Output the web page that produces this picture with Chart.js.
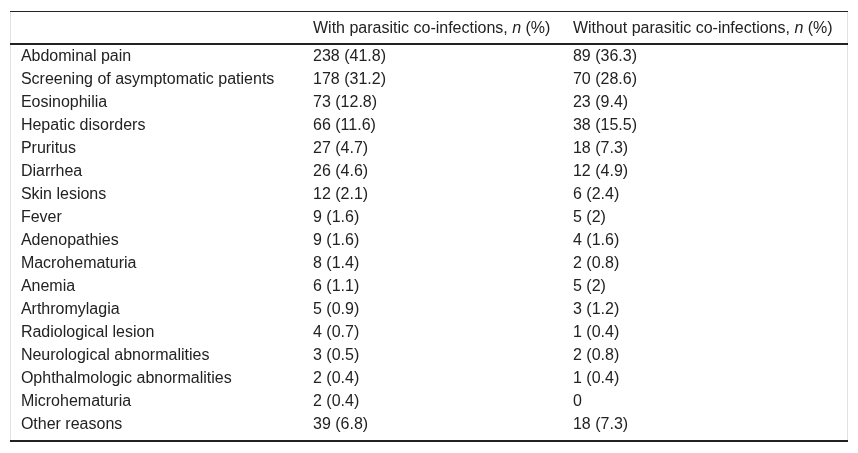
<!DOCTYPE html>
<html>
<head>
<meta charset="utf-8">
<script src="https://cdn.jsdelivr.net/npm/chart.js@4"></script>
<style>
  html, body { margin: 0; padding: 0; background: #fff; }
  #wrap { width: 858px; height: 453px; }
</style>
</head>
<body>
<div id="wrap"><canvas id="myTable" width="858" height="453"></canvas></div>
<script>
// 표 데이터
var reasons = [
  "Abdominal pain", "Screening of asymptomatic patients", "Eosinophilia",
  "Hepatic disorders", "Pruritus", "Diarrhea", "Skin lesions", "Fever",
  "Adenopathies", "Macrohematuria", "Anemia", "Arthromylagia",
  "Radiological lesion", "Neurological abnormalities",
  "Ophthalmologic abnormalities", "Microhematuria", "Other reasons"
];
var withN = [238, 178, 73, 66, 27, 26, 12, 9, 9, 8, 6, 5, 4, 3, 2, 2, 39];
var withPct = [41.8, 31.2, 12.8, 11.6, 4.7, 4.6, 2.1, 1.6, 1.6, 1.4, 1.1, 0.9, 0.7, 0.5, 0.4, 0.4, 6.8];
var withoutN = [89, 70, 23, 38, 18, 12, 6, 5, 4, 2, 5, 3, 1, 2, 1, 0, 18];
var withoutPct = [36.3, 28.6, 9.4, 15.5, 7.3, 4.9, 2.4, 2, 1.6, 0.8, 2, 1.2, 0.4, 0.8, 0.4, null, 7.3];
var headers = ["", "With parasitic co-infections, ", "Without parasitic co-infections, "];

// 열 시작 위치 (x축 0~1 비율)
var colStart = [0.013, 0.3616, 0.6718];
var FONT = "16px 'Liberation Sans', Arial, sans-serif";
var FONT_I = "italic 16px 'Liberation Sans', Arial, sans-serif";

function cell(n, p) {
  return p === null ? String(n) : n + " (" + p + ")";
}

var tablePlugin = {
  id: "tablePlugin",
  afterDraw: function (chart) {
    var ctx = chart.ctx;
    var area = chart.chartArea;
    var x = chart.scales.x;
    var y = chart.scales.y;
    ctx.save();

    // 테두리
    ctx.strokeStyle = "#e2e2e2";
    ctx.lineWidth = 1;
    ctx.beginPath();
    ctx.moveTo(area.left + 0.5, 11);
    ctx.lineTo(area.left + 0.5, area.bottom + 6);
    ctx.moveTo(area.right - 0.5, 11);
    ctx.lineTo(area.right - 0.5, area.bottom + 6);
    ctx.stroke();

    ctx.strokeStyle = "#222";
    ctx.beginPath();
    ctx.moveTo(area.left, 11.5);
    ctx.lineTo(area.right, 11.5);
    ctx.stroke();
    ctx.lineWidth = 2;
    ctx.beginPath();
    ctx.moveTo(area.left, area.top);
    ctx.lineTo(area.right, area.top);
    ctx.moveTo(area.left, area.bottom + 6);
    ctx.lineTo(area.right, area.bottom + 6);
    ctx.stroke();

    ctx.fillStyle = "#222";
    ctx.textBaseline = "alphabetic";
    ctx.textAlign = "left";

    // 헤더
    var hy = 33;
    for (var c = 1; c < headers.length; c++) {
      var hx = x.getPixelForValue(colStart[c]);
      ctx.font = FONT;
      ctx.fillText(headers[c], hx, hy);
      hx += ctx.measureText(headers[c]).width;
      ctx.font = FONT_I;
      ctx.fillText("n", hx, hy);
      hx += ctx.measureText("n").width;
      ctx.font = FONT;
      ctx.fillText(" (%)", hx, hy);
    }

    // 행
    ctx.font = FONT;
    for (var i = 0; i < reasons.length; i++) {
      var py = y.getPixelForValue(i) + 5.7;
      ctx.fillText(reasons[i], x.getPixelForValue(colStart[0]), py);
      ctx.fillText(cell(withN[i], withPct[i]), x.getPixelForValue(colStart[1]), py);
      ctx.fillText(cell(withoutN[i], withoutPct[i]), x.getPixelForValue(colStart[2]), py);
    }
    ctx.restore();
  }
};

var ctx = document.getElementById("myTable").getContext("2d");
var table = new Chart(ctx, {
  type: "line",
  data: {
    labels: reasons,
    datasets: []
  },
  options: {
    responsive: false,
    animation: false,
    layout: { padding: { left: 10, right: 10, top: 44, bottom: 18 } },
    plugins: { legend: { display: false }, tooltip: { enabled: false } },
    scales: {
      x: { type: "linear", min: 0, max: 1, display: false },
      y: { type: "category", labels: reasons, offset: true, display: false }
    }
  },
  plugins: [tablePlugin]
});
</script>
</body>
</html>
